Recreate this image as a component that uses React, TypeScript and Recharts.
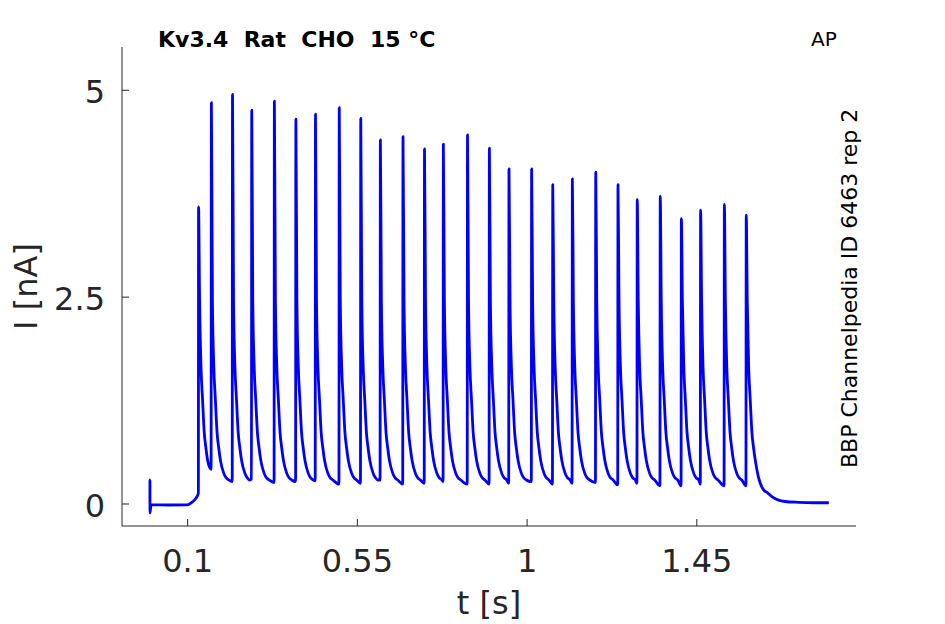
import { Line, LineChart, XAxis, YAxis } from 'recharts';

// AP protocol trace, Kv3.4
const spikeTimes = [
  0.129, 0.163, 0.219, 0.27, 0.33, 0.387, 0.439, 0.502, 0.559, 0.611, 0.671, 0.728, 0.778, 0.842,
  0.9, 0.952, 1.012, 1.068, 1.12, 1.182, 1.241, 1.292, 1.353, 1.409, 1.46, 1.523, 1.581,
];
const spikePeaks = [
  3.59, 4.85, 4.95, 4.76, 4.87, 4.65, 4.71, 4.79, 4.66, 4.4, 4.44, 4.29, 4.35, 4.46, 4.3, 4.05,
  4.05, 3.86, 3.93, 4.01, 3.86, 3.68, 3.72, 3.45, 3.55, 3.62, 3.49,
];
// level just before the next spike
const troughLevels = [
  0.42, 0.27, 0.3, 0.26, 0.27, 0.28, 0.24, 0.25, 0.29, 0.24, 0.25, 0.27, 0.24, 0.24, 0.25, 0.27,
  0.24, 0.25, 0.26, 0.23, 0.25, 0.22, 0.22, 0.24, 0.22, 0.22,
];
// decay after a spike, seconds after the peak / current
const decayOffsets = [0.0027, 0.0064, 0.0106, 0.0151, 0.0194, 0.0239, 0.0329, 0.0385, 0.0461];
const decayLevels = [2.46, 1.66, 1.26, 0.86, 0.68, 0.53, 0.37, 0.32, 0.29];

const startTrace = [
  [0, -0.01],
  [0.0001, 0.29],
  [0.0002, -0.11],
  [0.003, -0.01],
  [0.05, -0.012],
  [0.099, -0.01],
  [0.111, 0.02],
  [0.122, 0.07],
  [0.1285, 0.13],
];
const endTrace = [
  [1.613, 0.33],
  [1.627, 0.17],
  [1.636, 0.14],
  [1.649, 0.09],
  [1.665, 0.05],
  [1.684, 0.03],
  [1.72, 0.02],
  [1.76, 0.015],
  [1.8, 0.015],
];

const xTicks = [0.1, 0.55, 1, 1.45];
const xTickLabels = ['0.1', '0.55', '1', '1.45'];
const yTicks = [0, 2.5, 5];
const yTickLabels = ['0', '2.5', '5'];

const AXIS = '#262626';
const FONT = 'DejaVu Sans';
const LEFT = 122;
const BOTTOM = 526;

function buildTrace() {
  const rows = startTrace.map(([t, i]) => ({ t, i }));
  spikeTimes.forEach((ts, k) => {
    rows.push({ t: ts, i: spikePeaks[k] });
    const last = k === spikeTimes.length - 1;
    const next = last ? endTrace[0][0] : spikeTimes[k + 1];
    decayOffsets.forEach((d, j) => {
      if (ts + d < next - 0.002) rows.push({ t: ts + d, i: decayLevels[j] });
    });
    if (!last) rows.push({ t: next - 0.0008, i: troughLevels[k] });
  });
  endTrace.forEach(([t, i]) => rows.push({ t, i }));
  return rows;
}

const trace = buildTrace();

const XTick = (props: any) => {
  const { x, payload } = props;
  const idx = xTicks.indexOf(payload.value);
  return (
    <g>
      <line x1={x} x2={x} y1={BOTTOM} y2={BOTTOM - 7} stroke={AXIS} strokeWidth={1} />
      <text x={x} y={572} textAnchor="middle" fontSize={32} fontFamily={FONT} fill={AXIS}>
        {xTickLabels[idx]}
      </text>
    </g>
  );
};

const YTick = (props: any) => {
  const { y, payload } = props;
  const idx = yTicks.indexOf(payload.value);
  return (
    <g>
      <line x1={LEFT} x2={LEFT + 7} y1={y} y2={y} stroke={AXIS} strokeWidth={1} />
      <text x={105} y={y} dy="0.4em" textAnchor="end" fontSize={32} fontFamily={FONT} fill={AXIS}>
        {yTickLabels[idx]}
      </text>
    </g>
  );
};

export default function App() {
  return (
    <div style={{ position: 'absolute', left: 0, top: 0, width: 945, height: 624, background: '#fff' }}>
      <LineChart width={945} height={624} data={trace} margin={{ top: 47, right: 89, left: 0, bottom: 0 }}>
        <XAxis
          type="number"
          dataKey="t"
          domain={[-0.074, 1.872]}
          ticks={xTicks}
          allowDataOverflow
          height={98}
          axisLine={{ stroke: AXIS, strokeWidth: 1 }}
          tickLine={false}
          tick={XTick}
          interval={0}
        />
        <YAxis
          type="number"
          dataKey="i"
          domain={[-0.266, 5.523]}
          ticks={yTicks}
          allowDataOverflow
          width={122}
          axisLine={{ stroke: AXIS, strokeWidth: 1 }}
          tickLine={false}
          tick={YTick}
          interval={0}
        />
        <Line
          type="monotone"
          dataKey="i"
          stroke="#0000ff"
          strokeWidth={2.8}
          strokeLinejoin="round"
          dot={false}
          activeDot={false}
          isAnimationActive={false}
        />
      </LineChart>
      <svg
        width={945}
        height={624}
        style={{ position: 'absolute', left: 0, top: 0, pointerEvents: 'none' }}
        fontFamily={FONT}
      >
        <text x={158} y={47} fontSize={22} fontWeight="bold" fill="#000">
          {'Kv3.4\u00a0\u00a0Rat\u00a0\u00a0CHO\u00a0\u00a015\u00a0°C'}
        </text>
        <text x={811} y={46} fontSize={20} fill="#000">
          AP
        </text>
        <text x={857} y={468} fontSize={22} fill="#000" transform="rotate(-90 857 468)">
          BBP Channelpedia ID 6463 rep 2
        </text>
        <text x={37} y={286.5} fontSize={32} fill={AXIS} textAnchor="middle" transform="rotate(-90 37 286.5)">
          I [nA]
        </text>
        <text x={489} y={614} fontSize={32} fill={AXIS} textAnchor="middle">
          t [s]
        </text>
      </svg>
    </div>
  );
}
